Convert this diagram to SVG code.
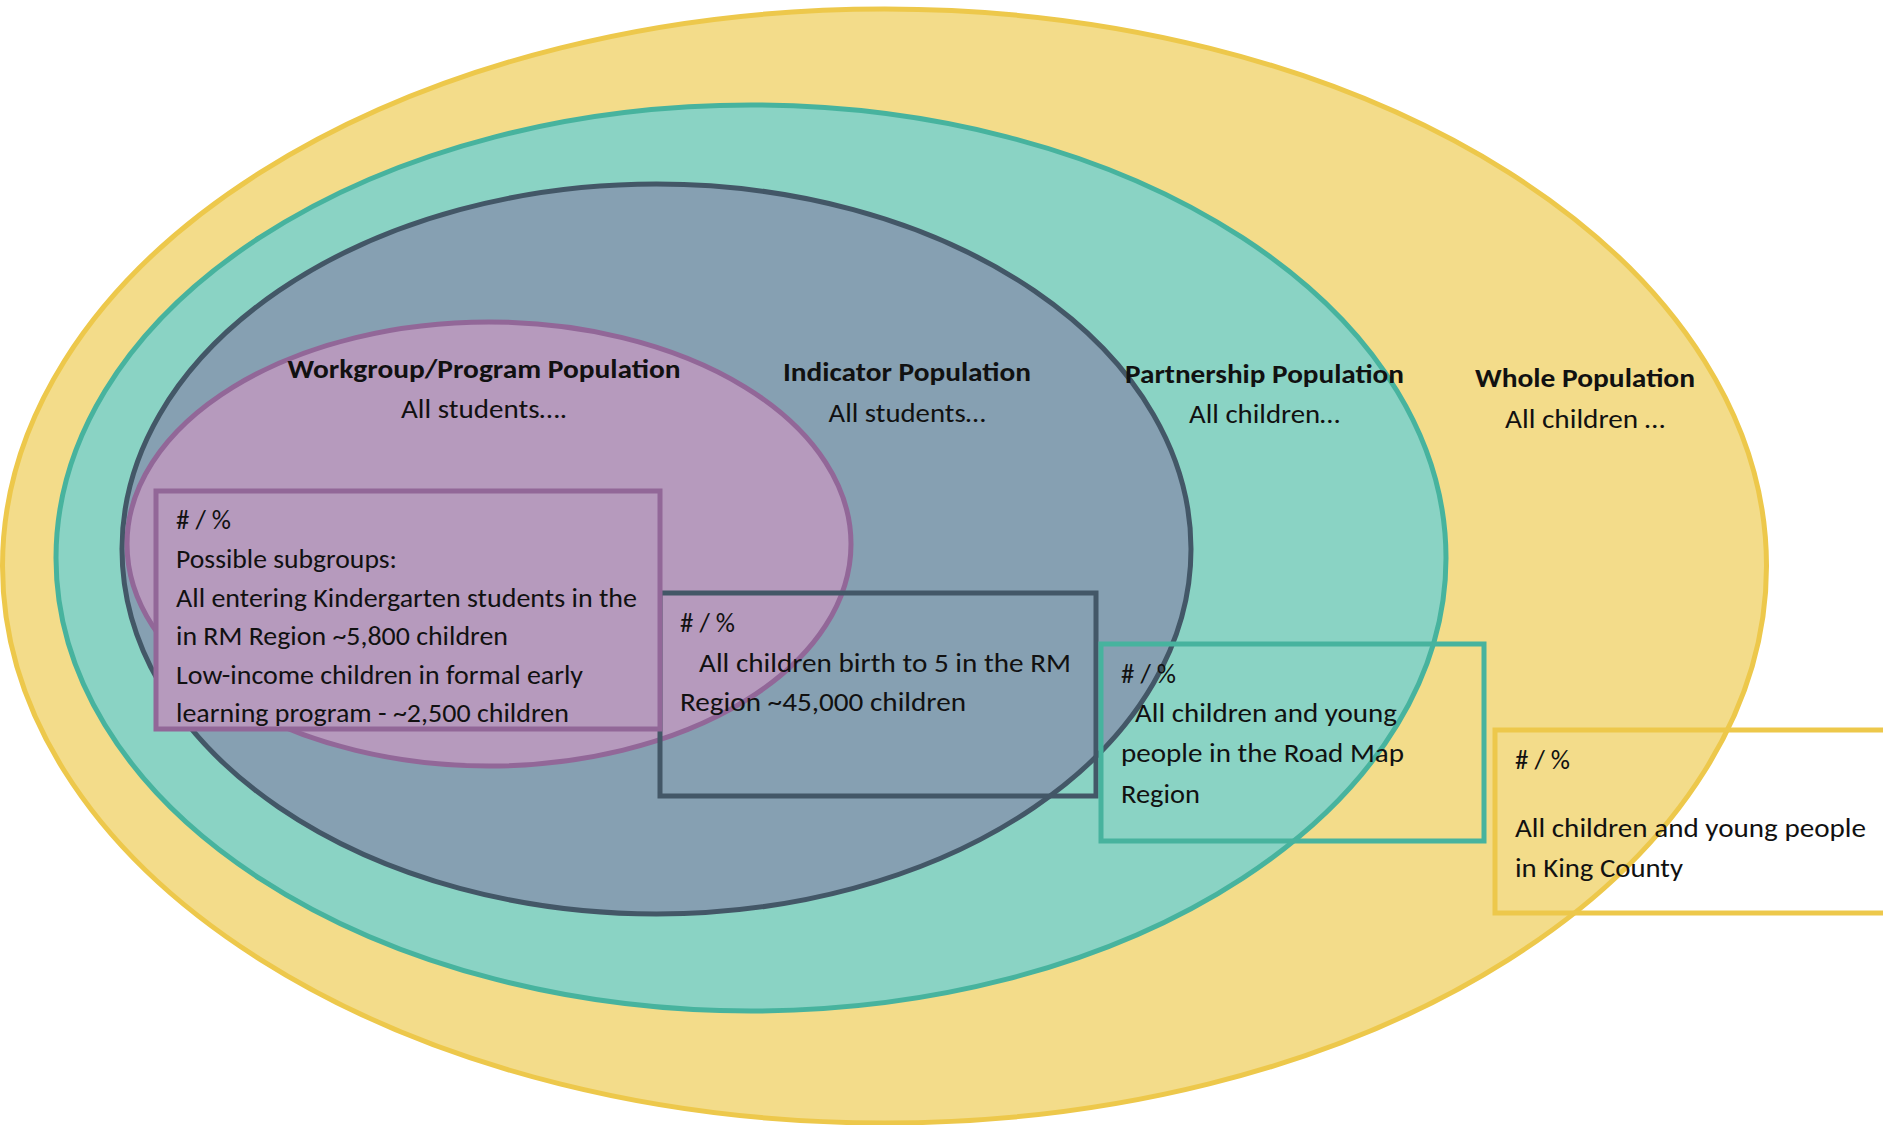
<svg xmlns="http://www.w3.org/2000/svg" width="1883" height="1125" viewBox="0 0 1883 1125">
<style>
  text { font-family: Carlito, Lato, "Liberation Sans", sans-serif; font-size: 27px; fill: #111; }
  .h { font-weight: bold; text-anchor: middle; }
  .c { text-anchor: middle; }
  .y { fill: #F3DC8A; stroke: #EDC84B; stroke-width: 5; }
  .t { fill: #8AD3C4; stroke: #47B39E; stroke-width: 5; }
  .d { fill: #86A0B2; stroke: #435767; stroke-width: 5; }
  .p { fill: #B69ABD; stroke: #926798; stroke-width: 5; }
  .box { fill: none; stroke-width: 5; }
</style>
<rect width="1883" height="1125" fill="#fff"/>
<g id="whole-population">
  <ellipse class="y" cx="884.5" cy="566" rx="882" ry="557"/>
</g>
<g id="partnership-population">
  <ellipse class="t" cx="751" cy="558" rx="695" ry="453"/>
</g>
<g id="indicator-population">
  <ellipse class="d" cx="656.5" cy="549" rx="534.5" ry="365"/>
</g>
<g id="workgroup-population">
  <ellipse class="p" cx="489" cy="544" rx="362" ry="222"/>
</g>
<g id="indicator-box">
  <rect class="box" x="660" y="593" width="436" height="203" stroke="#435767"/>
  <text x="680" y="632" textLength="55" lengthAdjust="spacingAndGlyphs"># / %</text>
  <text x="699" y="672" textLength="372" lengthAdjust="spacingAndGlyphs">All children birth to 5 in the RM</text>
  <text x="680" y="711" textLength="286" lengthAdjust="spacingAndGlyphs">Region ~45,000 children</text>
</g>
<g id="workgroup-box">
  <rect x="156" y="491" width="504" height="238" fill="#B69ABD" stroke="#926798" stroke-width="5"/>
  <text x="176" y="529" textLength="55" lengthAdjust="spacingAndGlyphs"># / %</text>
  <text x="176" y="568" textLength="221" lengthAdjust="spacingAndGlyphs">Possible subgroups:</text>
  <text x="176" y="607" textLength="461" lengthAdjust="spacingAndGlyphs">All entering Kindergarten students in the</text>
  <text x="176" y="645" textLength="332" lengthAdjust="spacingAndGlyphs">in RM Region ~5,800 children</text>
  <text x="176" y="684" textLength="407" lengthAdjust="spacingAndGlyphs">Low-income children in formal early</text>
  <text x="176" y="722" textLength="393" lengthAdjust="spacingAndGlyphs">learning program - ~2,500 children</text>
</g>
<g id="partnership-box">
  <rect class="box" x="1101" y="644" width="383" height="197" stroke="#47B39E"/>
  <text x="1121" y="683" textLength="55" lengthAdjust="spacingAndGlyphs"># / %</text>
  <text x="1135" y="722" textLength="262" lengthAdjust="spacingAndGlyphs">All children and young</text>
  <text x="1121" y="762" textLength="283" lengthAdjust="spacingAndGlyphs">people in the Road Map</text>
  <text x="1121" y="803" textLength="79" lengthAdjust="spacingAndGlyphs">Region</text>
</g>
<g id="whole-box">
  <rect class="box" x="1495" y="730" width="420" height="183" stroke="#EDC84B"/>
  <text x="1515" y="769" textLength="55" lengthAdjust="spacingAndGlyphs"># / %</text>
  <text x="1515" y="837" textLength="351" lengthAdjust="spacingAndGlyphs">All children and young people</text>
  <text x="1515" y="877" textLength="168" lengthAdjust="spacingAndGlyphs">in King County</text>
</g>
<g id="labels">
  <text class="h" x="484" y="378" textLength="393" lengthAdjust="spacingAndGlyphs">Workgroup/Program Population</text>
  <text class="c" x="484" y="418" textLength="166" lengthAdjust="spacingAndGlyphs">All students….</text>
  <text class="h" x="907" y="381" textLength="248" lengthAdjust="spacingAndGlyphs">Indicator Population</text>
  <text class="c" x="907" y="422" textLength="157" lengthAdjust="spacingAndGlyphs">All students…</text>
  <text class="h" x="1264.5" y="383" textLength="279" lengthAdjust="spacingAndGlyphs">Partnership Population</text>
  <text class="c" x="1264.5" y="423" textLength="151" lengthAdjust="spacingAndGlyphs">All children…</text>
  <text class="h" x="1585" y="387" textLength="220" lengthAdjust="spacingAndGlyphs">Whole Population</text>
  <text class="c" x="1585" y="428" textLength="160" lengthAdjust="spacingAndGlyphs">All children …</text>
</g>
</svg>
